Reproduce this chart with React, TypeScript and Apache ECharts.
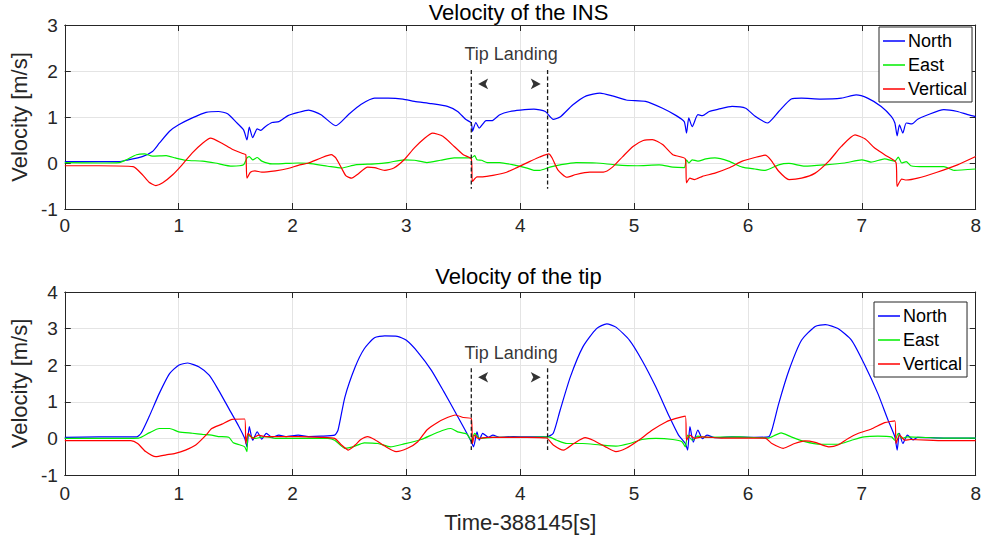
import React, { useEffect, useRef } from "react";
import * as echarts from "echarts";

const FONT = "'Liberation Sans', Arial, Helvetica, sans-serif";
const SERIES_NAMES = ["North", "East", "Vertical"];
const COLORS = ["#0000ff", "#00ee00", "#ff0000"];
const TITLES = ["Velocity of the INS", "Velocity of the tip"];
const Y_LABEL = "Velocity [m/s]";
const X_LABEL = "Time-388145[s]";
const X_RANGE = [0, 8];
const Y_RANGE_INS = [-1, 3];
const Y_RANGE_TIP = [-1, 4];
const LANDING_TEXT = "Tip Landing";
const LANDING_X = [3.57, 4.24];
const INS_MARK_Y = [2.02, -0.56];
const TIP_MARK_Y = [1.92, -0.32];
const INS_TEXT_POS = [3.92, 2.36];
const TIP_TEXT_POS = [3.92, 2.32];
const INS_ARROW_Y = 1.72;
const TIP_ARROW_Y = 1.67;
const ARROW_X = [3.63, 4.18];

const insNorth = [
  [0, 0.03], [0.3, 0.03], [0.48, 0.03], [0.54, 0.06], [0.68, 0.14], [0.77, 0.25], [0.83, 0.43], [0.92, 0.69],
  [1.0, 0.83], [1.12, 0.98], [1.24, 1.1], [1.35, 1.12], [1.43, 1.07], [1.5, 0.9], [1.57, 0.72], [1.6, 0.5],
  [1.62, 0.78], [1.65, 0.55], [1.69, 0.74], [1.72, 0.71], [1.76, 0.79], [1.82, 0.88], [1.88, 0.9], [1.96, 1.03],
  [2.05, 1.1], [2.14, 1.15], [2.25, 1.05], [2.38, 0.81], [2.49, 1.05], [2.6, 1.27], [2.72, 1.41], [2.84, 1.41],
  [2.97, 1.39], [3.07, 1.34], [3.22, 1.29], [3.36, 1.23], [3.45, 1.12], [3.52, 0.95], [3.57, 0.87], [3.58, 0.69],
  [3.61, 0.88], [3.64, 0.76], [3.7, 0.92], [3.75, 0.92], [3.82, 1.05], [3.91, 1.12], [4.0, 1.15], [4.12, 1.17],
  [4.22, 1.12], [4.29, 0.95], [4.35, 1.0], [4.46, 1.26], [4.58, 1.46], [4.7, 1.52], [4.81, 1.46], [4.93, 1.37],
  [5.1, 1.34], [5.25, 1.19], [5.37, 1.03], [5.44, 0.9], [5.46, 0.65], [5.48, 0.98], [5.51, 0.79], [5.56, 1.05],
  [5.6, 1.03], [5.66, 1.12], [5.74, 1.17], [5.86, 1.23], [5.98, 1.19], [6.06, 1.02], [6.17, 0.87], [6.27, 1.12],
  [6.38, 1.39], [6.47, 1.41], [6.64, 1.39], [6.82, 1.41], [6.95, 1.48], [7.05, 1.41], [7.17, 1.23], [7.26, 1.01],
  [7.29, 0.87], [7.31, 0.59], [7.33, 0.83], [7.36, 0.65], [7.39, 0.87], [7.44, 0.85], [7.49, 0.95], [7.58, 1.05],
  [7.72, 1.16], [7.84, 1.12], [7.93, 1.05], [8.0, 1.01],
];

const insEast = [
  [0, 0.01], [0.3, 0.0], [0.48, 0.01], [0.54, 0.07], [0.63, 0.18], [0.7, 0.2], [0.77, 0.15], [0.89, 0.16],
  [0.97, 0.11], [1.06, 0.06], [1.21, 0.04], [1.32, 0.0], [1.47, -0.07], [1.57, -0.04], [1.6, 0.11], [1.62, 0.14],
  [1.65, 0.07], [1.69, 0.12], [1.73, 0.04], [1.82, -0.02], [1.94, -0.01], [2.05, 0.0], [2.14, -0.01], [2.31, -0.07],
  [2.43, -0.11], [2.55, -0.04], [2.72, -0.02], [2.84, 0.01], [2.98, 0.07], [3.07, 0.06], [3.18, 0.01], [3.3, 0.06],
  [3.42, 0.11], [3.57, 0.11], [3.6, 0.16], [3.62, 0.07], [3.66, 0.06], [3.71, 0.01], [3.82, 0.01], [3.94, -0.04],
  [4.06, -0.11], [4.12, -0.16], [4.17, -0.16], [4.26, -0.09], [4.35, -0.04], [4.49, 0.01], [4.67, 0.0], [4.84, -0.04],
  [5.02, -0.06], [5.22, -0.04], [5.34, -0.09], [5.44, -0.1], [5.46, 0.07], [5.48, 0.0], [5.51, 0.07], [5.56, 0.04],
  [5.63, 0.09], [5.71, 0.11], [5.83, 0.04], [5.95, -0.09], [6.06, -0.13], [6.15, -0.16], [6.27, -0.04], [6.36, -0.01],
  [6.5, -0.07], [6.68, -0.04], [6.85, 0.0], [7.0, 0.07], [7.08, 0.02], [7.2, 0.09], [7.29, 0.04], [7.32, 0.13],
  [7.35, 0.0], [7.39, 0.03], [7.43, -0.06], [7.55, -0.08], [7.72, -0.08], [7.81, -0.16], [8.0, -0.13],
];

const insVertical = [
  [0, -0.06], [0.3, -0.06], [0.6, -0.08], [0.68, -0.25], [0.74, -0.42], [0.8, -0.49], [0.86, -0.43], [0.95, -0.25],
  [1.03, -0.04], [1.12, 0.22], [1.21, 0.43], [1.28, 0.54], [1.38, 0.43], [1.47, 0.3], [1.57, 0.2], [1.59, 0.18],
  [1.6, -0.33], [1.63, -0.2], [1.67, -0.17], [1.73, -0.2], [1.85, -0.17], [1.96, -0.12], [2.05, -0.05], [2.14, 0.0],
  [2.25, 0.11], [2.34, 0.18], [2.38, 0.11], [2.43, -0.11], [2.47, -0.28], [2.52, -0.33], [2.57, -0.25], [2.66, -0.09],
  [2.72, -0.1], [2.81, -0.16], [2.89, -0.11], [2.98, 0.07], [3.07, 0.33], [3.16, 0.54], [3.23, 0.65], [3.32, 0.58],
  [3.42, 0.36], [3.5, 0.18], [3.57, 0.09], [3.58, -0.4], [3.62, -0.3], [3.67, -0.3], [3.76, -0.27], [3.88, -0.2],
  [3.97, -0.1], [4.09, 0.04], [4.17, 0.13], [4.25, 0.2], [4.28, 0.11], [4.33, -0.15], [4.41, -0.31], [4.49, -0.25],
  [4.61, -0.2], [4.73, -0.2], [4.81, -0.09], [4.9, 0.14], [4.99, 0.36], [5.08, 0.49], [5.16, 0.51], [5.25, 0.4],
  [5.34, 0.18], [5.45, 0.09], [5.46, -0.43], [5.49, -0.33], [5.53, -0.36], [5.6, -0.29], [5.71, -0.22], [5.83, -0.11],
  [5.95, 0.04], [6.06, 0.12], [6.15, 0.17], [6.2, 0.07], [6.27, -0.18], [6.36, -0.36], [6.47, -0.33], [6.59, -0.22],
  [6.71, 0.04], [6.82, 0.36], [6.94, 0.61], [7.03, 0.52], [7.11, 0.33], [7.2, 0.18], [7.3, 0.01], [7.31, -0.51],
  [7.35, -0.35], [7.39, -0.37], [7.49, -0.33], [7.66, -0.2], [7.84, -0.04], [8.0, 0.14],
];

const tipNorth = [
  [0, 0.03], [0.3, 0.04], [0.55, 0.04], [0.63, 0.04], [0.67, 0.14], [0.74, 0.59], [0.83, 1.23], [0.92, 1.77],
  [1.0, 2.0], [1.08, 2.06], [1.18, 1.95], [1.27, 1.72], [1.35, 1.32], [1.44, 0.82], [1.53, 0.32], [1.58, 0.0],
  [1.6, -0.23], [1.62, 0.32], [1.65, -0.05], [1.69, 0.18], [1.73, -0.02], [1.77, 0.14], [1.82, 0.03], [1.88, 0.09],
  [1.94, 0.05], [2.05, 0.09], [2.14, 0.05], [2.25, 0.06], [2.37, 0.09], [2.4, 0.23], [2.46, 1.13], [2.55, 1.95],
  [2.63, 2.45], [2.72, 2.75], [2.81, 2.8], [2.92, 2.79], [3.0, 2.68], [3.1, 2.36], [3.22, 1.86], [3.33, 1.27],
  [3.42, 0.77], [3.5, 0.32], [3.57, -0.09], [3.59, -0.23], [3.62, 0.18], [3.64, -0.05], [3.67, 0.14], [3.72, 0.03],
  [3.76, 0.09], [3.82, 0.03], [3.94, 0.05], [4.06, 0.04], [4.23, 0.04], [4.29, 0.14], [4.35, 0.77], [4.44, 1.68],
  [4.55, 2.5], [4.67, 3.0], [4.76, 3.13], [4.84, 3.04], [4.96, 2.68], [5.07, 2.13], [5.19, 1.41], [5.31, 0.59],
  [5.39, 0.09], [5.45, -0.14], [5.47, -0.32], [5.49, 0.32], [5.52, -0.1], [5.56, 0.23], [5.6, -0.01], [5.64, 0.09],
  [5.71, 0.02], [5.86, 0.04], [6.06, 0.03], [6.18, 0.04], [6.21, 0.23], [6.27, 0.95], [6.36, 1.86], [6.47, 2.68],
  [6.59, 3.06], [6.68, 3.11], [6.79, 3.0], [6.91, 2.68], [7.02, 2.04], [7.14, 1.23], [7.23, 0.5], [7.29, 0.04],
  [7.31, -0.32], [7.33, 0.14], [7.36, -0.14], [7.4, 0.09], [7.45, -0.04], [7.49, 0.03], [7.72, 0.01], [8.0, 0.01],
];

const tipEast = [
  [0, 0.0], [0.3, 0.0], [0.65, 0.01], [0.74, 0.15], [0.83, 0.27], [0.92, 0.27], [1.0, 0.18], [1.12, 0.14],
  [1.21, 0.11], [1.29, 0.09], [1.35, 0.05], [1.44, 0.03], [1.48, -0.12], [1.54, -0.18], [1.58, -0.23], [1.6, -0.36],
  [1.61, 0.09], [1.67, 0.0], [1.76, 0.05], [1.85, 0.0], [2.05, 0.0], [2.31, 0.0], [2.37, -0.05], [2.46, -0.27],
  [2.53, -0.23], [2.63, -0.12], [2.75, -0.14], [2.86, -0.23], [2.98, -0.15], [3.13, -0.03], [3.24, 0.12], [3.33, 0.23],
  [3.39, 0.27], [3.45, 0.18], [3.53, 0.12], [3.57, -0.05], [3.6, 0.14], [3.64, 0.0], [3.76, 0.03], [4.06, 0.03],
  [4.25, 0.04], [4.32, -0.05], [4.41, -0.14], [4.55, -0.14], [4.7, -0.18], [4.84, -0.21], [4.96, -0.14], [5.07, -0.03],
  [5.19, 0.0], [5.34, -0.03], [5.42, -0.09], [5.45, -0.23], [5.47, 0.09], [5.51, -0.05], [5.56, 0.06], [5.63, 0.03],
  [5.92, 0.04], [6.18, 0.01], [6.24, 0.09], [6.29, 0.15], [6.38, 0.04], [6.5, -0.09], [6.64, -0.16], [6.79, -0.16],
  [6.91, -0.05], [7.02, 0.04], [7.14, 0.06], [7.26, 0.04], [7.29, -0.05], [7.32, 0.14], [7.35, 0.0], [7.4, 0.04],
  [7.72, 0.01], [8.0, 0.01],
];

const tipVertical = [
  [0, -0.06], [0.3, -0.06], [0.58, -0.06], [0.64, -0.14], [0.71, -0.36], [0.8, -0.5], [0.89, -0.45], [0.97, -0.41],
  [1.06, -0.32], [1.15, -0.18], [1.24, 0.09], [1.29, 0.27], [1.38, 0.39], [1.47, 0.52], [1.58, 0.53], [1.59, -0.14],
  [1.61, 0.14], [1.65, 0.0], [1.7, 0.09], [1.76, 0.05], [1.94, 0.05], [2.05, 0.05], [2.25, 0.03], [2.37, 0.0],
  [2.43, -0.18], [2.49, -0.32], [2.55, -0.18], [2.6, -0.03], [2.66, 0.05], [2.72, -0.03], [2.81, -0.21], [2.91, -0.36],
  [3.01, -0.27], [3.1, -0.09], [3.18, 0.23], [3.27, 0.43], [3.36, 0.57], [3.43, 0.64], [3.5, 0.57], [3.57, 0.54],
  [3.58, -0.14], [3.6, 0.09], [3.63, 0.0], [3.71, 0.03], [4.06, 0.03], [4.23, 0.01], [4.29, -0.18], [4.38, -0.32],
  [4.47, -0.14], [4.57, 0.02], [4.64, -0.05], [4.76, -0.25], [4.84, -0.36], [4.93, -0.27], [5.04, -0.05], [5.16, 0.23],
  [5.28, 0.45], [5.36, 0.54], [5.45, 0.61], [5.46, -0.05], [5.49, 0.09], [5.53, 0.0], [5.6, 0.04], [5.77, 0.01],
  [6.15, 0.01], [6.21, -0.14], [6.31, -0.27], [6.41, -0.14], [6.5, -0.07], [6.59, -0.11], [6.71, -0.23], [6.79, -0.18],
  [6.88, 0.0], [6.97, 0.14], [7.08, 0.25], [7.2, 0.43], [7.29, 0.48], [7.3, -0.14], [7.33, 0.09], [7.38, -0.05],
  [7.43, -0.03], [7.72, -0.06], [8.0, -0.06],
];

const AXIS_COLOR = "#262626";

function mainX(gridIndex: number, withName: boolean, margin: number) {
  return {
    type: "value",
    gridIndex,
    min: X_RANGE[0],
    max: X_RANGE[1],
    interval: 1,
    position: "bottom",
    axisLine: { show: true, onZero: false, lineStyle: { color: AXIS_COLOR, width: 1 } },
    axisTick: { show: true, inside: true, length: 6, lineStyle: { color: AXIS_COLOR } },
    axisLabel: { show: true, margin, color: AXIS_COLOR, fontSize: 19, fontFamily: FONT },
    splitLine: { show: true, lineStyle: { color: "#e4e4e4", width: 1 } },
    name: withName ? X_LABEL : "",
    nameLocation: "middle",
    nameGap: 36,
    nameTextStyle: { color: AXIS_COLOR, fontSize: 22, fontFamily: FONT },
  };
}
function sideX(gridIndex: number) {
  return {
    type: "value",
    gridIndex,
    min: X_RANGE[0],
    max: X_RANGE[1],
    interval: 1,
    position: "top",
    axisLine: { show: true, onZero: false, lineStyle: { color: AXIS_COLOR, width: 1 } },
    axisTick: { show: true, inside: true, length: 6, lineStyle: { color: AXIS_COLOR } },
    axisLabel: { show: false },
    splitLine: { show: false },
  };
}
function mainY(gridIndex: number, range: number[]) {
  return {
    type: "value",
    gridIndex,
    min: range[0],
    max: range[1],
    interval: 1,
    position: "left",
    axisLine: { show: true, onZero: false, lineStyle: { color: AXIS_COLOR, width: 1 } },
    axisTick: { show: true, inside: true, length: 6, lineStyle: { color: AXIS_COLOR } },
    axisLabel: { show: true, margin: 7, color: AXIS_COLOR, fontSize: 19, fontFamily: FONT },
    splitLine: { show: true, lineStyle: { color: "#e4e4e4", width: 1 } },
    name: Y_LABEL,
    nameLocation: "middle",
    nameGap: 20,
    nameTextStyle: { color: AXIS_COLOR, fontSize: 22, fontFamily: FONT },
  };
}
function sideY(gridIndex: number, range: number[]) {
  return {
    type: "value",
    gridIndex,
    min: range[0],
    max: range[1],
    interval: 1,
    position: "right",
    axisLine: { show: true, onZero: false, lineStyle: { color: AXIS_COLOR, width: 1 } },
    axisTick: { show: true, inside: true, length: 6, lineStyle: { color: AXIS_COLOR } },
    axisLabel: { show: false },
    splitLine: { show: false },
  };
}

function dataSeries(axisIdx: number, sets: number[][][]) {
  return sets.map((d, i) => ({
    name: SERIES_NAMES[i],
    type: "line",
    xAxisIndex: axisIdx,
    yAxisIndex: axisIdx,
    data: d,
    symbol: "none",
    showSymbol: false,
    smooth: 0.2,
    lineStyle: { color: COLORS[i], width: 1.2 },
    itemStyle: { color: COLORS[i] },
    silent: true,
    z: 2 + i,
  }));
}

function annotationSeries(axisIdx: number, markY: number[], textPos: number[], arrowY: number) {
  const lines = LANDING_X.map((x) => ({
    type: "line",
    xAxisIndex: axisIdx,
    yAxisIndex: axisIdx,
    data: [[x, markY[0]], [x, markY[1]]],
    symbol: "none",
    silent: true,
    lineStyle: { color: "#1a1a1a", width: 1.3, type: [4, 2.5] },
    z: 6,
  }));
  const arrows = {
    type: "scatter",
    xAxisIndex: axisIdx,
    yAxisIndex: axisIdx,
    symbol: "arrow",
    symbolSize: [8, 10],
    silent: true,
    itemStyle: { color: "#000000" },
    data: [
      { value: [ARROW_X[0], arrowY], symbolRotate: 90 },
      { value: [ARROW_X[1], arrowY], symbolRotate: -90 },
    ],
    z: 7,
  };
  const text = {
    type: "scatter",
    xAxisIndex: axisIdx,
    yAxisIndex: axisIdx,
    symbol: "circle",
    symbolSize: 1,
    silent: true,
    itemStyle: { color: "rgba(0,0,0,0)" },
    label: {
      show: true,
      position: "inside",
      formatter: LANDING_TEXT,
      color: "#000",
      fontSize: 18,
      fontFamily: FONT,
    },
    data: [textPos],
    z: 7,
  };
  return [...lines, arrows, text];
}

function legend(left: number, top: number) {
  return {
    data: SERIES_NAMES.map((n) => ({ name: n, icon: "rect" })),
    left,
    top,
    orient: "vertical",
    itemWidth: 22,
    itemHeight: 1.5,
    itemGap: 6,
    selectedMode: false,
    backgroundColor: "#ffffff",
    borderColor: AXIS_COLOR,
    borderWidth: 1,
    borderRadius: 0,
    padding: [5, 5, 4, 4],
    textStyle: { color: "#000", fontSize: 18, fontFamily: FONT, padding: [0, 0, 0, -2], lineHeight: 18 },
  };
}

export default function App() {
  const ref = useRef<HTMLDivElement>(null);
  useEffect(() => {
    if (!ref.current) return;
    const chart = echarts.init(ref.current, undefined, { renderer: "svg" });
    const option = {
      animation: false,
      backgroundColor: "#ffffff",
      graphic: [
        {
          type: "text",
          x: 518.5,
          y: 12,
          style: { text: TITLES[0], textAlign: "center", textVerticalAlign: "middle", fill: "#000", fontSize: 22, fontFamily: FONT },
        },
        {
          type: "text",
          x: 518.5,
          y: 276,
          style: { text: TITLES[1], textAlign: "center", textVerticalAlign: "middle", fill: "#000", fontSize: 22, fontFamily: FONT },
        },
      ],
      grid: [
        { left: 60, top: 25, width: 917, height: 184, containLabel: false },
        { left: 60, top: 292, width: 917, height: 183, containLabel: false },
      ],
      legend: [legend(879, 27), legend(874, 302)],
      xAxis: [mainX(0, false, 7), sideX(0), mainX(1, true, 9), sideX(1)],
      yAxis: [mainY(0, Y_RANGE_INS), sideY(0, Y_RANGE_INS), mainY(1, Y_RANGE_TIP), sideY(1, Y_RANGE_TIP)],
      series: [
        ...dataSeries(0, [insNorth, insEast, insVertical]),
        ...annotationSeries(0, INS_MARK_Y, INS_TEXT_POS, INS_ARROW_Y),
        ...dataSeries(2, [tipNorth, tipEast, tipVertical]),
        ...annotationSeries(2, TIP_MARK_Y, TIP_TEXT_POS, TIP_ARROW_Y),
      ],
    };
    chart.setOption(option as any);
    return () => chart.dispose();
  }, []);
  return (
    <div
      ref={ref}
      style={{ position: "fixed", left: 0, top: 0, width: 984, height: 539, background: "#fff" }}
    />
  );
}
